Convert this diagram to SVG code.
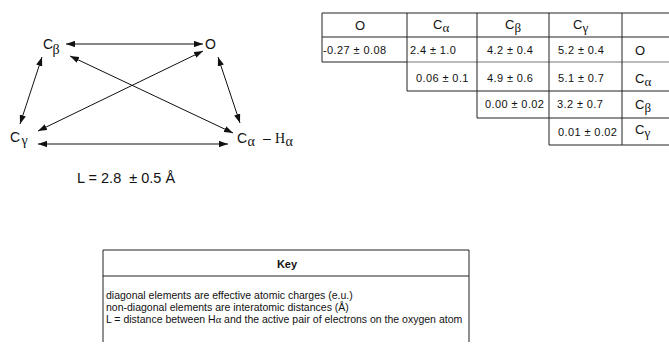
<svg xmlns="http://www.w3.org/2000/svg" width="669" height="351" viewBox="0 0 669 351">
  <defs>
    <marker id="tip" viewBox="0 0 10 7" refX="10" refY="3.5" markerWidth="9" markerHeight="6.5" markerUnits="userSpaceOnUse" orient="auto-start-reverse">
      <path d="M0,0 L10,3.5 L0,7 z" fill="#111"/>
    </marker>
  </defs>
  <style>
    .sans { font-family: "Liberation Sans", Arial, sans-serif; fill: #111; }
    .serif { font-family: "Liberation Serif", "Times New Roman", serif; fill: #111; }
    .atom { font-size: 14px; }
    .sub { font-size: 14px; }
    .hdr { font-size: 13px; }
    .hsub { font-size: 13px; }
    .cell { font-size: 11px; letter-spacing: 0.4px; }
    .key { font-size: 10.5px; }
    .link { stroke: #111; stroke-width: 1; fill: none; marker-start: url(#tip); marker-end: url(#tip); }
    .grid { stroke: #222; stroke-width: 1; fill: none; }
    .faint { stroke: #777; stroke-width: 1; fill: none; }
  </style>
  <rect width="669" height="351" fill="#fff"/>

  <!-- molecule graph: atoms -->
  <g id="node-cbeta">
    <text class="sans atom" x="43" y="49">C</text>
    <text class="serif sub" x="52.5" y="54">β</text>
  </g>
  <g id="node-o">
    <text class="sans atom" x="205" y="49">O</text>
  </g>
  <g id="node-cgamma">
    <text class="sans atom" x="10" y="142">C</text>
    <text class="serif sub" x="21.5" y="145">γ</text>
  </g>
  <g id="node-calpha-halpha">
    <text class="sans atom" x="237" y="143">C</text>
    <text class="serif sub" x="247.5" y="146">α</text>
    <text class="sans atom" x="263" y="143">–</text>
    <text class="serif atom" x="275" y="143">H</text>
    <text class="serif sub" x="285.5" y="146">α</text>
  </g>

  <!-- molecule graph: pairwise distances -->
  <g id="connectors">
    <line class="link" x1="66" y1="44" x2="203" y2="44"/>
    <line class="link" x1="42" y1="57" x2="20" y2="124"/>
    <line class="link" x1="218" y1="57" x2="240" y2="123"/>
    <line class="link" x1="70" y1="56" x2="233" y2="133"/>
    <line class="link" x1="203" y1="51" x2="38" y2="131"/>
    <line class="link" x1="38" y1="144" x2="228" y2="144"/>
  </g>

  <text class="sans" x="77" y="183" font-size="14.5">L = 2.8&#160; ± 0.5 Å</text>

  <!-- charge / distance matrix -->
  <g id="matrix">
    <g id="matrix-lines">
      <line class="grid" x1="322" y1="13" x2="669" y2="13"/>
      <line class="grid" x1="322" y1="37" x2="669" y2="37"/>
      <line class="grid" x1="322" y1="62" x2="407" y2="62"/>
      <line class="faint" x1="407" y1="62" x2="669" y2="62"/>
      <line class="grid" x1="407" y1="91" x2="669" y2="91"/>
      <line class="grid" x1="477" y1="118" x2="669" y2="118"/>
      <line class="grid" x1="549" y1="145" x2="669" y2="145"/>
      <line class="grid" x1="322" y1="13" x2="322" y2="62"/>
      <line class="grid" x1="407" y1="13" x2="407" y2="91"/>
      <line class="grid" x1="477" y1="13" x2="477" y2="118"/>
      <line class="grid" x1="549" y1="13" x2="549" y2="145"/>
      <line class="grid" x1="622" y1="13" x2="622" y2="145"/>
    </g>
    <g id="matrix-header">
      <text class="sans hdr" x="355" y="30">O</text>
      <text class="sans hdr" x="433" y="29">C</text>
      <text class="serif hsub" x="442.5" y="32">α</text>
      <text class="sans hdr" x="505" y="29">C</text>
      <text class="serif hsub" x="514.5" y="32">β</text>
      <text class="sans hdr" x="573" y="29">C</text>
      <text class="serif hsub" x="582.5" y="32">γ</text>
    </g>
    <g id="matrix-rows">
      <text class="sans hdr" x="635" y="55">O</text>
      <text class="sans hdr" x="635" y="83">C</text>
      <text class="serif hsub" x="644.5" y="86">α</text>
      <text class="sans hdr" x="635" y="109">C</text>
      <text class="serif hsub" x="644.5" y="112">β</text>
      <text class="sans hdr" x="635" y="134">C</text>
      <text class="serif hsub" x="644.5" y="137">γ</text>
    </g>
    <g id="matrix-cells">
      <text class="sans cell" x="323" y="54">-0.27 ± 0.08</text>
      <text class="sans cell" x="410" y="54">2.4 ± 1.0</text>
      <text class="sans cell" x="487" y="54">4.2 ± 0.4</text>
      <text class="sans cell" x="558" y="54">5.2 ± 0.4</text>
      <text class="sans cell" x="416" y="81.5">0.06 ± 0.1</text>
      <text class="sans cell" x="487" y="81.5">4.9 ± 0.6</text>
      <text class="sans cell" x="558" y="81.5">5.1 ± 0.7</text>
      <text class="sans cell" x="485" y="108">0.00 ± 0.02</text>
      <text class="sans cell" x="557" y="108">3.2 ± 0.7</text>
      <text class="sans cell" x="558" y="136">0.01 ± 0.02</text>
    </g>
  </g>

  <!-- legend -->
  <g id="key">
    <path class="grid" d="M103,342 V250 H469 V342"/>
    <line class="grid" x1="103" y1="276" x2="469" y2="276"/>
    <text class="sans" x="287" y="268" font-size="11" font-weight="bold" text-anchor="middle">Key</text>
    <text class="sans key" x="106" y="299">diagonal elements are effective atomic charges (e.u.)</text>
    <text class="sans key" x="106" y="311">non-diagonal elements are interatomic distances (Å)</text>
    <text class="sans key" x="106" y="323">L = distance between H<tspan class="serif">α</tspan> and the active pair of electrons on the oxygen atom</text>
  </g>
</svg>
